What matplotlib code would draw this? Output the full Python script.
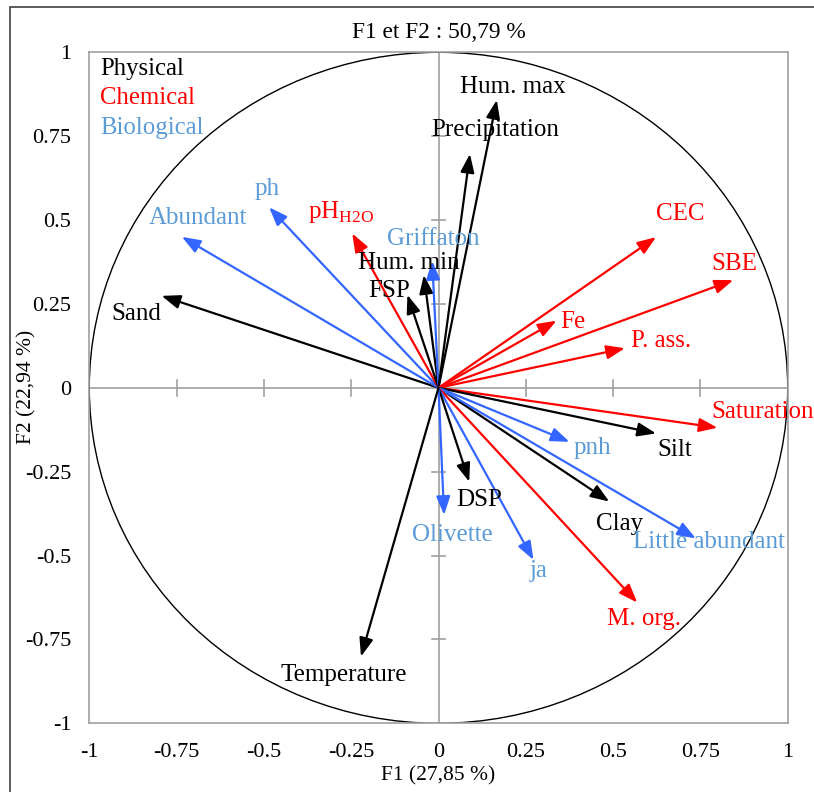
import matplotlib
matplotlib.use("Agg")
import matplotlib.pyplot as plt
import numpy as np
from matplotlib.patches import Circle, Rectangle

plt.rcParams['font.family'] = ['Liberation Serif', 'DejaVu Serif']
plt.rcParams['mathtext.fontset'] = 'custom'
plt.rcParams['mathtext.rm'] = 'Liberation Serif'

# ---- data ----
variables = ["Sand", "Abundant", "ph", "pH$_{\\mathregular{H2O}}$", "FSP", "Hum. min", "Griffaton",
             "Precipitation", "Hum. max", "CEC", "SBE", "Fe", "P. ass.",
             "Saturation", "Silt", "pnh", "Clay", "Little abundant", "M. org.",
             "ja", "DSP", "Olivette", "Temperature"]
f1 = [-0.793, -0.735, -0.485, -0.247, -0.089, -0.042, -0.018,
      0.090, 0.167, 0.623, 0.844, 0.338, 0.534,
      0.799, 0.623, 0.375, 0.489, 0.737, 0.569,
      0.272, 0.088, 0.016, -0.222]
f2 = [0.274, 0.450, 0.538, 0.460, 0.277, 0.336, 0.378,
      0.697, 0.858, 0.449, 0.321, 0.200, 0.118,
      -0.119, -0.136, -0.161, -0.339, -0.449, -0.640,
      -0.513, -0.280, -0.379, -0.801]
groups = ["Physical", "Biological", "Biological", "Chemical", "Physical", "Physical", "Biological",
          "Physical", "Physical", "Chemical", "Chemical", "Chemical", "Chemical",
          "Chemical", "Physical", "Biological", "Physical", "Biological", "Chemical",
          "Biological", "Physical", "Biological", "Physical"]
group_names = ["Physical", "Chemical", "Biological"]
title = "F1 et F2 : 50,79 %"
xlabel = "F1 (27,85 %)"
ylabel = "F2 (22,94 %)"
ticks = [-1, -0.75, -0.5, -0.25, 0, 0.25, 0.5, 0.75, 1]
tick_labels = ["-1", "-0.75", "-0.5", "-0.25", "0", "0.25", "0.5", "0.75", "1"]

# ---- styles / layout ----
arrow_colors = {"Physical": "#000000", "Chemical": "#FF0000", "Biological": "#3366FF"}
text_colors = {"Physical": "#000000", "Chemical": "#FF0000", "Biological": "#5B9BD5"}
# label offsets in pixels from the arrow tip
label_offsets = [(-25, -18), (16, 19), (-2, 18), (-11, 21), (-18, 4), (-15, 12), (1, 22),
                 (25, 24), (16, 13), (24, 23), (1, 16), (16, -1), (36, 7),
                 (45, 16), (19, -17), (23, -6), (10, -22), (13, -4), (7, -16),
                 (5, -11), (10, -18), (8, -20), (-17, -18)]

fig = plt.figure(figsize=(8.14, 7.92), dpi=100)
ax = fig.add_axes([89.3 / 814, 1 - 723.3 / 792, (787.7 - 89.3) / 814, (723.3 - 52.3) / 792])
ax.set_xlim(-1, 1)
ax.set_ylim(-1, 1)

# outer chart border
fig.patches.append(Rectangle((10 / 814, -0.05), 1.2, 1 - 7 / 792 + 0.05, transform=fig.transFigure,
                             fill=False, edgecolor="#404040", linewidth=1.2))

for s in ax.spines.values():
    s.set_color("#A0A0A0")
    s.set_linewidth(1.2)

ax.set_xticks(ticks)
ax.set_yticks(ticks)
ax.set_xticklabels(tick_labels)
ax.set_yticklabels(tick_labels)
ax.tick_params(length=0, labelsize=16, colors="#000000")
ax.tick_params(axis='x', pad=14)
ax.tick_params(axis='y', pad=13)

# zero lines with crossing ticks
ax.axhline(0, color="#A0A0A0", lw=1.2, zorder=1)
ax.axvline(0, color="#A0A0A0", lw=1.2, zorder=1)
for t in ticks:
    if t in (-1, 0, 1):
        continue
    ax.plot([t, t], [-0.025, 0.022], color="#A0A0A0", lw=1.2, zorder=1)
    ax.plot([-0.018, 0.018], [t, t], color="#A0A0A0", lw=1.2, zorder=1)

ax.add_patch(Circle((0, 0), 1, fill=False, edgecolor="#000000", lw=1.0, zorder=2))

for name, x, y, g, off in zip(variables, f1, f2, groups, label_offsets):
    ax.annotate("", xy=(x, y), xytext=(0, 0),
                arrowprops=dict(arrowstyle="-|>,head_length=0.8,head_width=0.3",
                                color=arrow_colors[g], lw=1.6, shrinkA=0, shrinkB=0,
                                mutation_scale=14), zorder=3)
    ax.annotate(name, xy=(x, y), xytext=off, textcoords="offset pixels",
                ha="center", va="center", fontsize=18, color=text_colors[g], zorder=4)

for i, gname in enumerate(group_names):
    fig.text(100 / 814, 1 - (69 + 29.5 * i) / 792, gname, ha="left", va="center",
             fontsize=17.8, color=text_colors[gname])

fig.text(438.5 / 814, 1 - 33 / 792, title, ha="center", va="center", fontsize=16.8)
fig.text(438.5 / 814, 1 - 776 / 792, xlabel, ha="center", va="center", fontsize=15.5)
fig.text(27 / 814, 1 - 387 / 792, ylabel, ha="center", va="center", fontsize=15.5, rotation=90)

fig.savefig("out.png", dpi=100)
